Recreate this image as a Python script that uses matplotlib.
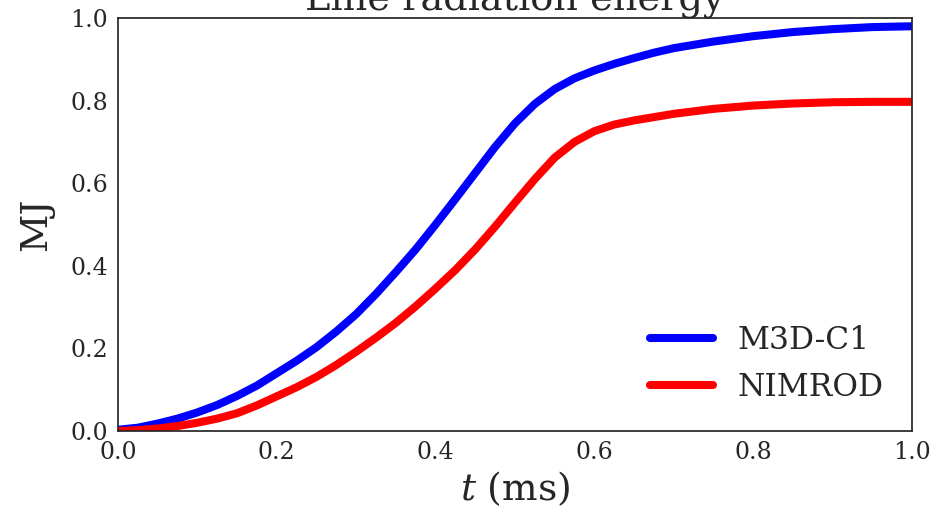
"""
Line radiation energy: M3D-C1 vs NIMROD
"""
import matplotlib
matplotlib.use('Agg')
import matplotlib.pyplot as plt

# time in ms
t = [0.000, 0.025, 0.050, 0.075, 0.100, 0.125, 0.150, 0.175, 0.200, 0.225,
     0.250, 0.275, 0.300, 0.325, 0.350, 0.375, 0.400, 0.425, 0.450, 0.475,
     0.500, 0.525, 0.550, 0.575, 0.600, 0.625, 0.650, 0.675, 0.700, 0.750,
     0.800, 0.850, 0.900, 0.950, 1.000]

# radiated energy in MJ
m3dc1 = [0.003, 0.008, 0.018, 0.030, 0.045, 0.063, 0.085, 0.110, 0.140, 0.170,
         0.203, 0.241, 0.283, 0.332, 0.385, 0.440, 0.500, 0.562, 0.625, 0.688,
         0.745, 0.792, 0.828, 0.854, 0.873, 0.889, 0.903, 0.916, 0.927, 0.943,
         0.956, 0.966, 0.973, 0.978, 0.980]
nimrod = [0.000, 0.002, 0.006, 0.012, 0.020, 0.030, 0.043, 0.062, 0.084, 0.106,
          0.131, 0.160, 0.192, 0.226, 0.262, 0.302, 0.345, 0.390, 0.440, 0.495,
          0.553, 0.610, 0.662, 0.700, 0.726, 0.742, 0.752, 0.760, 0.768, 0.780,
          0.788, 0.793, 0.796, 0.797, 0.797]

xticks = [0.0, 0.2, 0.4, 0.6, 0.8, 1.0]
yticks = [0.0, 0.2, 0.4, 0.6, 0.8, 1.0]

plt.rcParams.update({
    'font.family': 'DejaVu Serif',
    'mathtext.fontset': 'dejavuserif',
    'text.color': '#262626',
    'axes.labelcolor': '#262626',
    'xtick.color': '#262626',
    'ytick.color': '#262626',
    'axes.edgecolor': '#262626',
    'axes.linewidth': 1.25,
    'lines.solid_capstyle': 'round',
})

fig = plt.figure(figsize=(9.37, 5.15), dpi=100)
ax = fig.add_axes([118 / 937, 1 - 431 / 515, (912 - 118) / 937, (431 - 18) / 515])

ax.plot(t, m3dc1, color='#0000ff', linewidth=5.8, label='M3D-C1')
ax.plot(t, nimrod, color='#ff0000', linewidth=5.8, label='NIMROD')

ax.set_xlim(0, 1)
ax.set_ylim(0, 1)
ax.set_xticks(xticks)
ax.set_yticks(yticks)
ax.tick_params(length=0, labelsize=17, pad=7)

ax.set_xlabel('$t$ (ms)', fontsize=27, labelpad=4)
ax.set_ylabel('MJ', fontsize=27, labelpad=12)
ax.set_title('Line radiation energy', fontsize=27.5)

ax.legend(loc='lower right', fontsize=22.5, frameon=False, handlelength=2.0)

fig.savefig('out.png', dpi=100, facecolor='white')
